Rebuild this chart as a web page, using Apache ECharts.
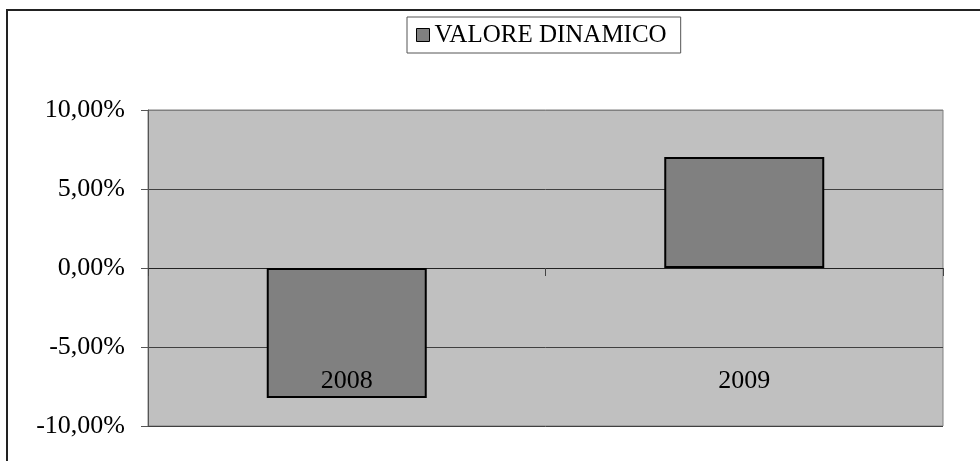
<!DOCTYPE html>
<html><head><meta charset="utf-8">
<script src="https://cdn.jsdelivr.net/npm/echarts@6/dist/echarts.min.js"></script>
<style>html,body{margin:0;padding:0;background:#fff}#c{width:980px;height:461px}</style>
</head><body><div id="c"></div>
<script>
const categories = ['2008', '2009'];
const seriesName = 'VALORE DINAMICO';
const values = [-8.23, 7.03];
const yTicks = { min: -10, max: 10, interval: 5 };

const font = '"Liberation Serif", "Times New Roman", serif';
const chart = echarts.init(document.getElementById('c'), null, { renderer: 'canvas' });
chart.setOption({
  animation: false,
  backgroundColor: '#ffffff',
  graphic: [{
    type: 'rect', z: -1, silent: true,
    shape: { x: 7, y: 10, width: 1000, height: 500 },
    style: { fill: 'none', stroke: '#222', lineWidth: 2 }
  }],
  legend: {
    top: 17, left: 407,
    data: [seriesName],
    backgroundColor: '#fff', borderColor: '#555', borderWidth: 1,
    padding: [5, 14, 5, 9],
    itemWidth: 13, itemHeight: 13, itemGap: 4,
    icon: 'rect',
    textStyle: { fontFamily: font, fontSize: 25, lineHeight: 26, color: '#000' },
    itemStyle: { borderColor: '#000', borderWidth: 1 }
  },
  grid: {
    left: 148, right: 37, top: 110, bottom: 35,
    outerBoundsMode: 'none', containLabel: false,
    show: true, backgroundColor: '#c0c0c0', borderColor: '#808080', borderWidth: 1
  },
  xAxis: [{
    type: 'category', data: categories, boundaryGap: true,
    axisLine: { onZero: true, lineStyle: { color: '#222', width: 1 } },
    axisTick: { show: true, length: 8, lineStyle: { color: '#444' } },
    axisLabel: { show: false },
    splitLine: { show: false }
  }, {
    type: 'category', data: categories, boundaryGap: true, position: 'bottom', z: 10,
    axisLine: { show: false, onZero: false },
    axisTick: { show: false },
    axisLabel: { margin: -58, fontFamily: font, fontSize: 26, color: '#000' },
    splitLine: { show: false }
  }],
  yAxis: {
    type: 'value', min: yTicks.min, max: yTicks.max, interval: yTicks.interval,
    axisLine: { show: true, lineStyle: { color: '#555' } },
    axisTick: { show: true, length: 7, lineStyle: { color: '#555' } },
    axisLabel: {
      margin: 23, fontFamily: font, fontSize: 26, color: '#000',
      formatter: v => v.toFixed(2).replace('.', ',') + '%'
    },
    splitLine: { show: true, lineStyle: { color: ['#404040', '#404040', '#404040', '#404040', '#808080'], width: 1 } }
  },
  series: [{
    name: seriesName, type: 'bar', data: values, barWidth: 160, xAxisIndex: 0,
    itemStyle: { color: '#808080', borderColor: '#000', borderWidth: 2 }
  }]
});
</script></body></html>
